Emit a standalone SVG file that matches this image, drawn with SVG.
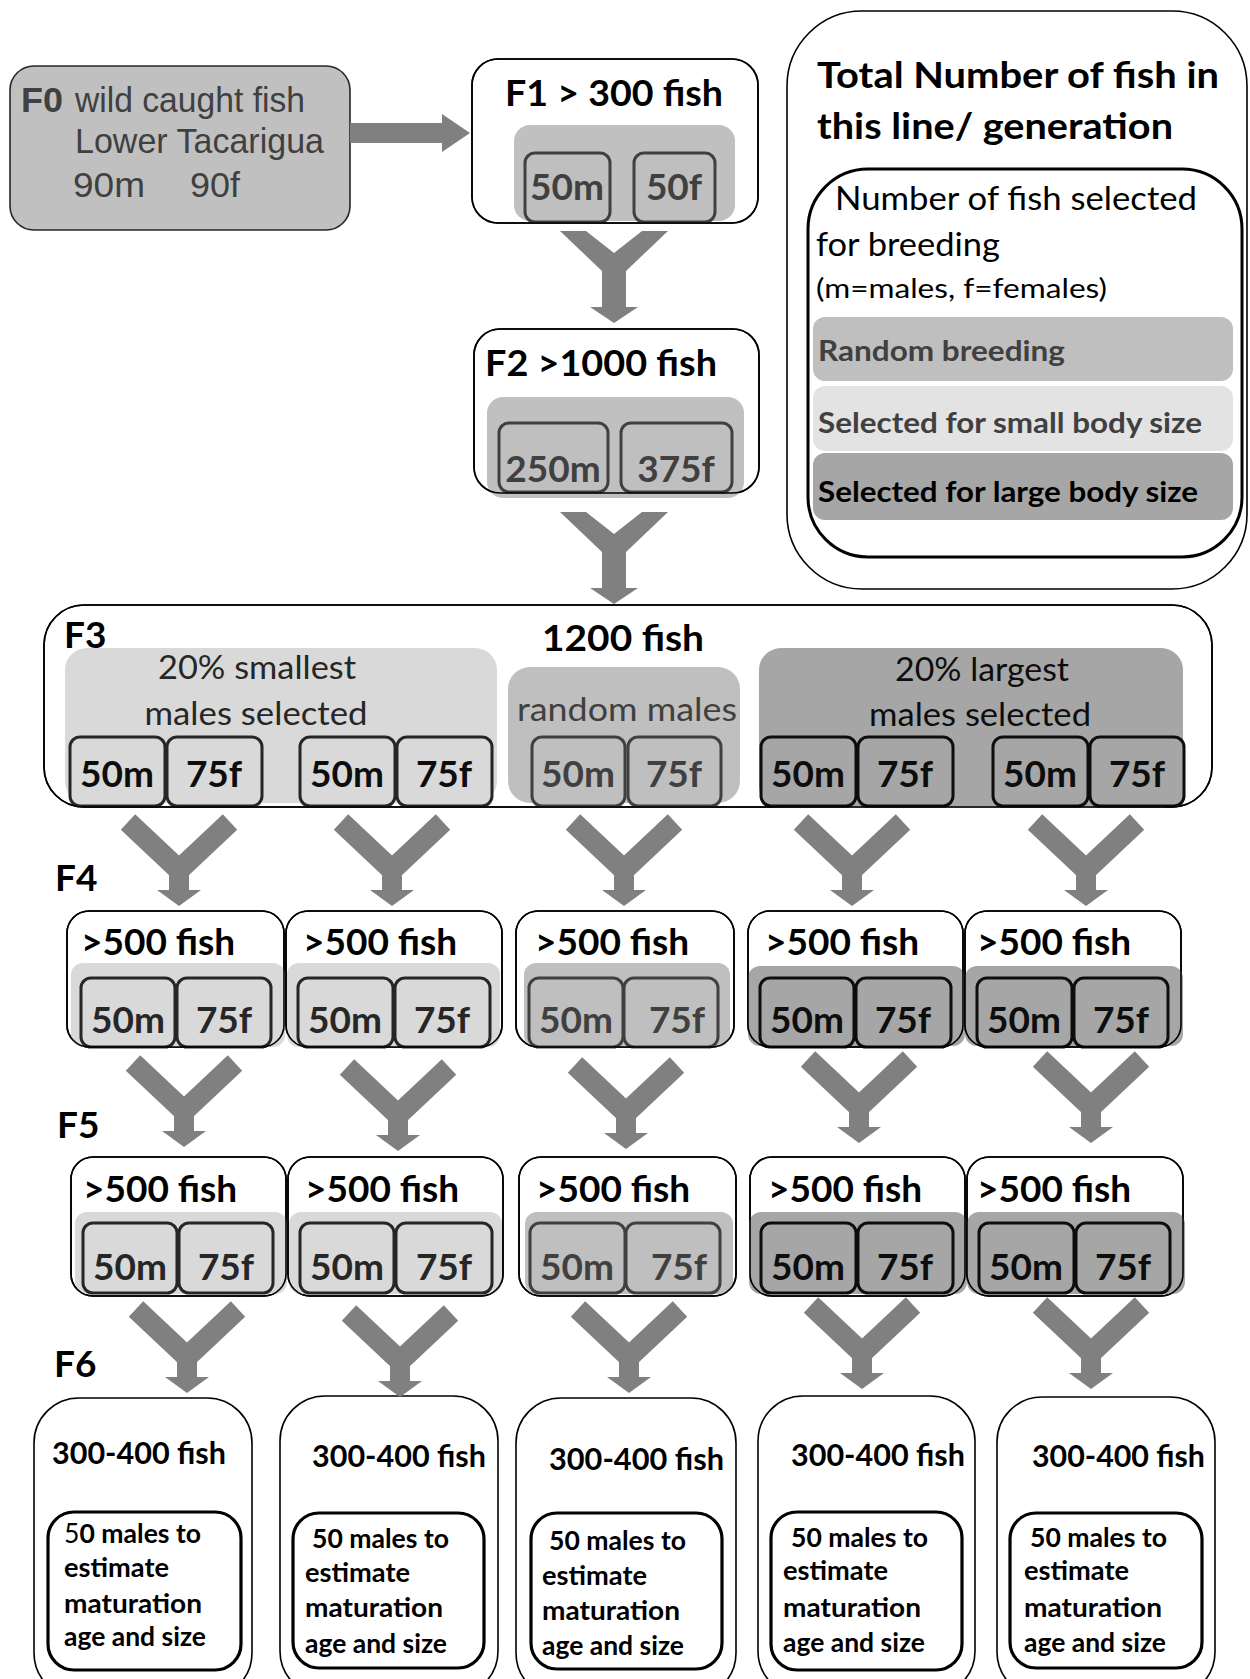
<svg xmlns="http://www.w3.org/2000/svg" width="1250" height="1679" viewBox="0 0 1250 1679">
<style>
.box{fill:#fff;stroke:#000;stroke-width:1.6}
.edge{fill:none;stroke:#000;stroke-width:1.6}
.pl{fill:#d9d9d9}.pr{fill:#bfbfbf}.pd{fill:#a6a6a6}
.sl{fill:#d9d9d9;stroke:#262626;stroke-width:3}
.sr{fill:#bfbfbf;stroke:#404040;stroke-width:3}
.sd{fill:#a6a6a6;stroke:#0d0d0d;stroke-width:3}
text{font-family:Lato,"Liberation Sans",sans-serif;font-weight:700}
.ti{font-size:37px;fill:#000}
.sub{font-size:37px;text-anchor:middle}
.cl{fill:#262626}.cr{fill:#404040}.cd{fill:#0d0d0d}
.reg{font-weight:400}
.f0{font-family:"Liberation Sans",Arial,sans-serif;font-weight:400;font-size:35px;fill:#404040}
.f6t{font-size:30px;fill:#000}
.f6i{font-size:27px;fill:#000}
.conn{fill:#808080}
</style>
<defs>
<g id="ys">
<path d="M-51,6 L0,54 L51,6" fill="none" stroke="#808080" stroke-width="21"/>
<rect x="-10" y="48" width="20" height="27" fill="#808080"/>
<polygon points="-22,74 22,74 0,90" fill="#808080"/>
</g>
<polygon id="yl" points="-54,0 -28,0 0,22 28,0 54,0 12,40 12,76 24,76 0,92 -24,76 -12,76 -12,40" fill="#808080"/>
</defs>

<!-- Legend -->
<g id="legend">
<rect x="787" y="11" width="460" height="578" rx="75" class="box"/>
<text x="817" y="88" class="ti" textLength="402" lengthAdjust="spacingAndGlyphs">Total Number of fish in</text>
<text x="817" y="139" class="ti" textLength="356" lengthAdjust="spacingAndGlyphs">this line/ generation</text>
<rect x="808" y="169" width="434" height="388" rx="60" fill="#fff" stroke="#000" stroke-width="3"/>
<text x="835" y="210" class="reg" font-size="33" textLength="362" lengthAdjust="spacingAndGlyphs">Number of fish selected</text>
<text x="816" y="256" class="reg" font-size="33" textLength="184" lengthAdjust="spacingAndGlyphs">for breeding</text>
<text x="816" y="298" class="reg" font-size="26" textLength="291" lengthAdjust="spacingAndGlyphs">(m=males, f=females)</text>
<rect x="813" y="317" width="420" height="64" rx="12" class="pr"/>
<text x="818" y="361" font-size="29" class="cr" textLength="247" lengthAdjust="spacingAndGlyphs">Random breeding</text>
<rect x="813" y="386" width="420" height="65" rx="12" fill="#e3e3e3"/>
<text x="818" y="433" font-size="29" class="cr" textLength="384" lengthAdjust="spacingAndGlyphs">Selected for small body size</text>
<rect x="813" y="453" width="420" height="67" rx="12" class="pd"/>
<text x="818" y="502" font-size="29" fill="#000" textLength="380" lengthAdjust="spacingAndGlyphs">Selected for large body size</text>
</g>

<!-- F0 -->
<g id="f0">
<rect x="10" y="66" width="340" height="164" rx="24" fill="#c0c0c0" stroke="#262626" stroke-width="1.6"/>
<text x="21" y="112" class="f0" style="font-weight:700" textLength="42" lengthAdjust="spacingAndGlyphs">F0</text>
<text x="75" y="112" class="f0" textLength="230" lengthAdjust="spacingAndGlyphs">wild caught fish</text>
<text x="75" y="153" class="f0" textLength="249" lengthAdjust="spacingAndGlyphs">Lower Tacarigua</text>
<text y="197" class="f0"><tspan x="73" textLength="72" lengthAdjust="spacingAndGlyphs">90m</tspan><tspan x="190" textLength="50" lengthAdjust="spacingAndGlyphs">90f</tspan></text>
</g>

<!-- F1 -->
<g id="f1">
<rect x="472" y="59" width="286" height="164" rx="26" class="box"/>
<rect x="514" y="125" width="221" height="96" rx="16" fill="#c0c0c0"/>
<rect x="525" y="153" width="85" height="69" rx="10" class="sr"/>
<rect x="634" y="153" width="81" height="69" rx="10" class="sr"/>
<rect x="472" y="59" width="286" height="164" rx="26" class="edge"/>
<text x="614" y="106" class="ti" text-anchor="middle" textLength="218" lengthAdjust="spacingAndGlyphs">F1 &gt; 300 fish</text>
<text x="567" y="200" class="sub cr">50m</text>
<text x="674" y="200" class="sub cr">50f</text>
</g>

<!-- F2 -->
<g id="f2">
<rect x="474" y="329" width="285" height="164" rx="26" class="box"/>
<rect x="487" y="397" width="257" height="101" rx="16" fill="#c0c0c0"/>
<rect x="499" y="423" width="109" height="69" rx="10" class="sr"/>
<rect x="621" y="423" width="111" height="69" rx="10" class="sr"/>
<rect x="474" y="329" width="285" height="164" rx="26" class="edge"/>
<text x="485" y="376" class="ti" textLength="232" lengthAdjust="spacingAndGlyphs">F2 &gt;1000 fish</text>
<text x="553" y="482" class="sub cr">250m</text>
<text x="676" y="482" class="sub cr">375f</text>
</g>

<!-- F3 -->
<g id="f3">
<rect x="44" y="605" width="1168" height="202" rx="40" class="box"/>
<rect x="65" y="648" width="432" height="155" rx="22" class="pl"/>
<rect x="508" y="667" width="232" height="136" rx="22" class="pr"/>
<rect x="759" y="648" width="424" height="160" rx="22" class="pd"/>
<rect x="70" y="737" width="95" height="69" rx="10" class="sl"/>
<rect x="167" y="737" width="95" height="69" rx="10" class="sl"/>
<rect x="300" y="737" width="95" height="69" rx="10" class="sl"/>
<rect x="397" y="737" width="95" height="69" rx="10" class="sl"/>
<rect x="532" y="737" width="93" height="69" rx="10" class="sr"/>
<rect x="628" y="737" width="93" height="69" rx="10" class="sr"/>
<rect x="761" y="737" width="95" height="69" rx="10" class="sd"/>
<rect x="858" y="737" width="95" height="69" rx="10" class="sd"/>
<rect x="993" y="737" width="95" height="69" rx="10" class="sd"/>
<rect x="1090" y="737" width="94" height="69" rx="10" class="sd"/>
<rect x="44" y="605" width="1168" height="202" rx="40" class="edge"/>
<text x="64" y="648" class="ti">F3</text>
<text x="542" y="651" class="ti" textLength="162" lengthAdjust="spacingAndGlyphs">1200 fish</text>
<text x="257" y="679" class="reg cl" font-size="33" text-anchor="middle" textLength="198" lengthAdjust="spacingAndGlyphs">20% smallest</text>
<text x="256" y="725" class="reg cl" font-size="33" text-anchor="middle" textLength="223" lengthAdjust="spacingAndGlyphs">males selected</text>
<text x="627" y="721" class="reg cr" font-size="33" text-anchor="middle" textLength="220" lengthAdjust="spacingAndGlyphs">random  males</text>
<text x="982" y="681" class="reg cd" font-size="33" text-anchor="middle" textLength="174" lengthAdjust="spacingAndGlyphs">20% largest</text>
<text x="980" y="726" class="reg cd" font-size="33" text-anchor="middle" textLength="222" lengthAdjust="spacingAndGlyphs">males selected</text>
<text x="117" y="787" class="sub cd">50m</text>
<text x="214" y="787" class="sub cd">75f</text>
<text x="347" y="787" class="sub cd">50m</text>
<text x="444" y="787" class="sub cd">75f</text>
<text x="578" y="787" class="sub cr">50m</text>
<text x="674" y="787" class="sub cr">75f</text>
<text x="808" y="787" class="sub cd">50m</text>
<text x="905" y="787" class="sub cd">75f</text>
<text x="1040" y="787" class="sub cd">50m</text>
<text x="1137" y="787" class="sub cd">75f</text>
</g>

<!-- Generation labels -->
<g id="labels">
<text x="55" y="891" class="ti">F4</text>
<text x="57" y="1138" class="ti">F5</text>
<text x="54" y="1377" class="ti">F6</text>
</g>

<!-- F4 -->
<g id="f4-1">
<rect x="67" y="911" width="217" height="136" rx="22" class="box"/>
<rect x="71" y="963" width="214" height="84" rx="12" class="pl"/>
<rect x="81" y="978" width="94" height="69" rx="10" class="sl"/>
<rect x="177" y="978" width="94" height="69" rx="10" class="sl"/>
<rect x="67" y="911" width="217" height="136" rx="22" class="edge"/>
<text x="81" y="955" class="ti">&gt;500 fish</text>
<text x="128" y="1033" class="sub cl">50m</text>
<text x="224" y="1033" class="sub cl">75f</text>
</g>
<g id="f4-2">
<rect x="286" y="911" width="216" height="136" rx="22" class="box"/>
<rect x="287" y="963" width="213" height="84" rx="12" class="pl"/>
<rect x="298" y="978" width="95" height="69" rx="10" class="sl"/>
<rect x="395" y="978" width="95" height="69" rx="10" class="sl"/>
<rect x="286" y="911" width="216" height="136" rx="22" class="edge"/>
<text x="303" y="955" class="ti">&gt;500 fish</text>
<text x="345" y="1033" class="sub cl">50m</text>
<text x="442" y="1033" class="sub cl">75f</text>
</g>
<g id="f4-3">
<rect x="516" y="911" width="218" height="136" rx="22" class="box"/>
<rect x="524" y="963" width="206" height="84" rx="12" class="pr"/>
<rect x="529" y="978" width="94" height="69" rx="10" class="sr"/>
<rect x="624" y="978" width="94" height="69" rx="10" class="sr"/>
<rect x="516" y="911" width="218" height="136" rx="22" class="edge"/>
<text x="535" y="955" class="ti">&gt;500 fish</text>
<text x="576" y="1033" class="sub cr">50m</text>
<text x="677" y="1033" class="sub cr">75f</text>
</g>
<g id="f4-4">
<rect x="748" y="911" width="215" height="136" rx="22" class="box"/>
<rect x="748" y="966" width="217" height="80" rx="12" class="pd"/>
<rect x="760" y="978" width="94" height="69" rx="10" class="sd"/>
<rect x="856" y="978" width="95" height="69" rx="10" class="sd"/>
<rect x="748" y="911" width="215" height="136" rx="22" class="edge"/>
<text x="765" y="955" class="ti">&gt;500 fish</text>
<text x="807" y="1033" class="sub cd">50m</text>
<text x="903" y="1033" class="sub cd">75f</text>
</g>
<g id="f4-5">
<rect x="965" y="911" width="216" height="136" rx="22" class="box"/>
<rect x="965" y="966" width="218" height="80" rx="12" class="pd"/>
<rect x="977" y="978" width="95" height="69" rx="10" class="sd"/>
<rect x="1074" y="978" width="94" height="69" rx="10" class="sd"/>
<rect x="965" y="911" width="216" height="136" rx="22" class="edge"/>
<text x="977" y="955" class="ti">&gt;500 fish</text>
<text x="1024" y="1033" class="sub cd">50m</text>
<text x="1121" y="1033" class="sub cd">75f</text>
</g>

<!-- F5 -->
<g id="f5-1">
<rect x="71" y="1157" width="215" height="139" rx="22" class="box"/>
<rect x="75" y="1212" width="212" height="82" rx="12" class="pl"/>
<rect x="83" y="1223" width="94" height="70" rx="10" class="sl"/>
<rect x="179" y="1223" width="94" height="70" rx="10" class="sl"/>
<rect x="71" y="1157" width="215" height="139" rx="22" class="edge"/>
<text x="83" y="1202" class="ti">&gt;500 fish</text>
<text x="130" y="1280" class="sub cl">50m</text>
<text x="226" y="1280" class="sub cl">75f</text>
</g>
<g id="f5-2">
<rect x="288" y="1157" width="215" height="139" rx="22" class="box"/>
<rect x="289" y="1212" width="213" height="82" rx="12" class="pl"/>
<rect x="300" y="1223" width="94" height="70" rx="10" class="sl"/>
<rect x="396" y="1223" width="96" height="70" rx="10" class="sl"/>
<rect x="288" y="1157" width="215" height="139" rx="22" class="edge"/>
<text x="305" y="1202" class="ti">&gt;500 fish</text>
<text x="347" y="1280" class="sub cl">50m</text>
<text x="444" y="1280" class="sub cl">75f</text>
</g>
<g id="f5-3">
<rect x="519" y="1157" width="217" height="139" rx="22" class="box"/>
<rect x="525" y="1212" width="208" height="82" rx="12" class="pr"/>
<rect x="530" y="1223" width="95" height="70" rx="10" class="sr"/>
<rect x="626" y="1223" width="94" height="70" rx="10" class="sr"/>
<rect x="519" y="1157" width="217" height="139" rx="22" class="edge"/>
<text x="536" y="1202" class="ti">&gt;500 fish</text>
<text x="577" y="1280" class="sub cr">50m</text>
<text x="679" y="1280" class="sub cr">75f</text>
</g>
<g id="f5-4">
<rect x="750" y="1157" width="215" height="139" rx="22" class="box"/>
<rect x="749" y="1212" width="218" height="82" rx="12" class="pd"/>
<rect x="761" y="1223" width="95" height="70" rx="10" class="sd"/>
<rect x="858" y="1223" width="95" height="70" rx="10" class="sd"/>
<rect x="750" y="1157" width="215" height="139" rx="22" class="edge"/>
<text x="768" y="1202" class="ti">&gt;500 fish</text>
<text x="808" y="1280" class="sub cd">50m</text>
<text x="905" y="1280" class="sub cd">75f</text>
</g>
<g id="f5-5">
<rect x="967" y="1157" width="216" height="139" rx="22" class="box"/>
<rect x="967" y="1212" width="218" height="82" rx="12" class="pd"/>
<rect x="979" y="1223" width="95" height="70" rx="10" class="sd"/>
<rect x="1076" y="1223" width="94" height="70" rx="10" class="sd"/>
<rect x="967" y="1157" width="216" height="139" rx="22" class="edge"/>
<text x="977" y="1202" class="ti">&gt;500 fish</text>
<text x="1026" y="1280" class="sub cd">50m</text>
<text x="1123" y="1280" class="sub cd">75f</text>
</g>

<!-- F6 -->
<g id="f6-1">
<rect x="34" y="1398" width="218" height="300" rx="45" class="box"/>
<rect x="48" y="1512" width="193" height="158" rx="26" fill="#fff" stroke="#000" stroke-width="3.2"/>
<text x="52" y="1464" class="f6t" textLength="174" lengthAdjust="spacingAndGlyphs">300-400 fish</text>
<text x="64" y="1543" class="f6i" textLength="137" lengthAdjust="spacingAndGlyphs"><tspan font-weight="400">5</tspan>0 males to</text>
<text x="64" y="1577" class="f6i" textLength="105" lengthAdjust="spacingAndGlyphs">estimate</text>
<text x="64" y="1613" class="f6i" textLength="138" lengthAdjust="spacingAndGlyphs">maturation</text>
<text x="64" y="1646" class="f6i" textLength="142" lengthAdjust="spacingAndGlyphs">age and size</text>
</g>
<g id="f6-2">
<rect x="280" y="1396" width="218" height="300" rx="45" class="box"/>
<rect x="293" y="1513" width="191" height="155" rx="26" fill="#fff" stroke="#000" stroke-width="3.2"/>
<text x="312" y="1467" class="f6t" textLength="174" lengthAdjust="spacingAndGlyphs">300-400 fish</text>
<text x="312" y="1548" class="f6i" textLength="137" lengthAdjust="spacingAndGlyphs">50 males to</text>
<text x="305" y="1582" class="f6i" textLength="105" lengthAdjust="spacingAndGlyphs">estimate</text>
<text x="305" y="1617" class="f6i" textLength="138" lengthAdjust="spacingAndGlyphs">maturation</text>
<text x="305" y="1653" class="f6i" textLength="142" lengthAdjust="spacingAndGlyphs">age and size</text>
</g>
<g id="f6-3">
<rect x="516" y="1398" width="220" height="300" rx="45" class="box"/>
<rect x="531" y="1513" width="191" height="156" rx="26" fill="#fff" stroke="#000" stroke-width="3.2"/>
<text x="549" y="1470" class="f6t" textLength="175" lengthAdjust="spacingAndGlyphs">300-400 fish</text>
<text x="549" y="1550" class="f6i" textLength="137" lengthAdjust="spacingAndGlyphs">50 males to</text>
<text x="542" y="1585" class="f6i" textLength="105" lengthAdjust="spacingAndGlyphs">estimate</text>
<text x="542" y="1620" class="f6i" textLength="138" lengthAdjust="spacingAndGlyphs">maturation</text>
<text x="542" y="1655" class="f6i" textLength="142" lengthAdjust="spacingAndGlyphs">age and size</text>
</g>
<g id="f6-4">
<rect x="758" y="1396" width="217" height="300" rx="45" class="box"/>
<rect x="771" y="1512" width="191" height="158" rx="26" fill="#fff" stroke="#000" stroke-width="3.2"/>
<text x="791" y="1466" class="f6t" textLength="174" lengthAdjust="spacingAndGlyphs">300-400 fish</text>
<text x="791" y="1547" class="f6i" textLength="137" lengthAdjust="spacingAndGlyphs">50 males to</text>
<text x="783" y="1580" class="f6i" textLength="105" lengthAdjust="spacingAndGlyphs">estimate</text>
<text x="783" y="1617" class="f6i" textLength="138" lengthAdjust="spacingAndGlyphs">maturation</text>
<text x="783" y="1652" class="f6i" textLength="142" lengthAdjust="spacingAndGlyphs">age and size</text>
</g>
<g id="f6-5">
<rect x="997" y="1397" width="218" height="300" rx="45" class="box"/>
<rect x="1010" y="1513" width="192" height="155" rx="26" fill="#fff" stroke="#000" stroke-width="3.2"/>
<text x="1032" y="1467" class="f6t" textLength="173" lengthAdjust="spacingAndGlyphs">300-400 fish</text>
<text x="1030" y="1547" class="f6i" textLength="137" lengthAdjust="spacingAndGlyphs">50 males to</text>
<text x="1024" y="1580" class="f6i" textLength="105" lengthAdjust="spacingAndGlyphs">estimate</text>
<text x="1024" y="1617" class="f6i" textLength="138" lengthAdjust="spacingAndGlyphs">maturation</text>
<text x="1024" y="1652" class="f6i" textLength="142" lengthAdjust="spacingAndGlyphs">age and size</text>
</g>

<!-- Connectors -->
<g id="connectors">
<polygon class="conn" points="350,123 442,123 442,114 470,133 442,152 442,143 350,143"/>
<use href="#yl" x="614" y="231"/>
<use href="#yl" x="614" y="512"/>
<use href="#ys" x="179" y="816"/>
<use href="#ys" x="392" y="816"/>
<use href="#ys" x="624" y="816"/>
<use href="#ys" x="852" y="816"/>
<use href="#ys" x="1086" y="816"/>
<use href="#ys" x="184" y="1057"/>
<use href="#ys" x="398" y="1061"/>
<use href="#ys" x="626" y="1059"/>
<use href="#ys" x="859" y="1053"/>
<use href="#ys" x="1091" y="1053"/>
<use href="#ys" x="187" y="1303"/>
<use href="#ys" x="400" y="1307"/>
<use href="#ys" x="629" y="1303"/>
<use href="#ys" x="862" y="1299"/>
<use href="#ys" x="1091" y="1299"/>
</g>
</svg>
